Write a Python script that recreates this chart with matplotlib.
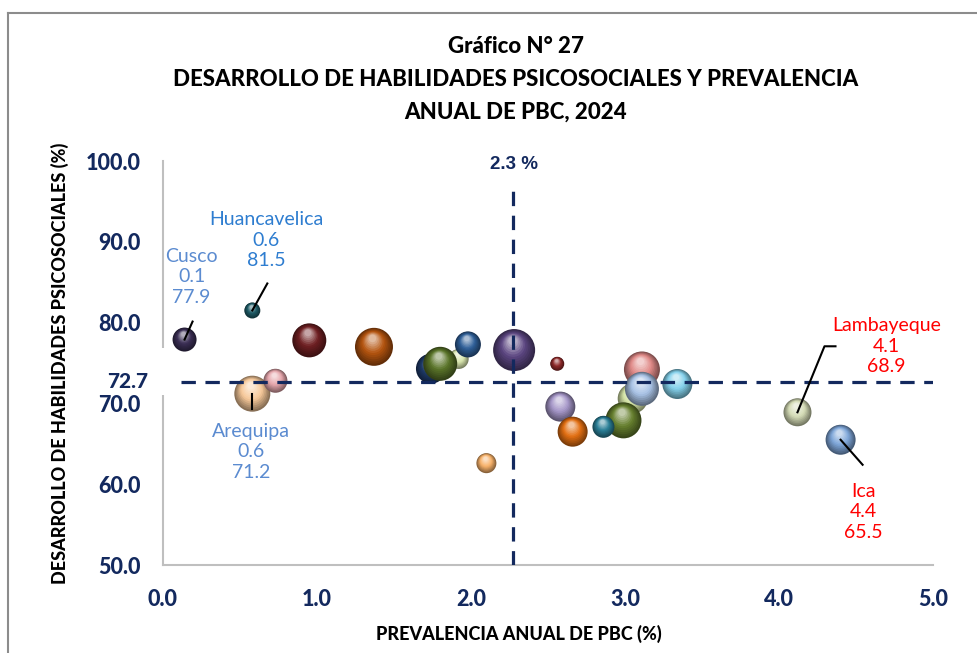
import matplotlib
matplotlib.use("Agg")
import matplotlib.pyplot as plt
import matplotlib.colors as mcolors
from matplotlib.patches import Rectangle
from matplotlib.lines import Line2D
from matplotlib.transforms import offset_copy
import numpy as np

# datos
regiones = ["Cusco", "Huancavelica", "Arequipa", "", "", "", "", "", "", "", "", "", "",
            "", "", "", "", "", "", "", "", "Lambayeque", "Ica"]
prevalencia = [0.14, 0.58, 0.58, 0.73, 0.95, 1.37, 1.92, 1.74, 1.80, 1.98, 2.28, 2.56, 2.10,
               2.58, 2.66, 3.05, 2.99, 2.86, 3.11, 3.11, 3.34, 4.12, 4.40]
habilidades = [77.9, 81.5, 71.2, 72.8, 77.8, 77.0, 75.5, 74.3, 74.9, 77.3, 76.6, 74.9, 62.6,
               69.6, 66.5, 70.6, 67.9, 67.1, 74.2, 71.8, 72.4, 68.9, 65.5]
tamano = [144, 64, 324, 144, 289, 361, 100, 225, 289, 169, 441, 49, 100,
          225, 225, 225, 324, 121, 324, 289, 225, 196, 225]
prom_x = 2.27
prom_y = 72.7

colores = ["#3b2f55", "#1e5b66", "#f7c99a", "#e6a7ad", "#6e1f22", "#b4540f", "#d9e6ae",
           "#1f3b6a", "#5a7429", "#2f5f98", "#5b4580", "#8e2a2a", "#f8b26a", "#a596c8",
           "#e26f12", "#d4e3a6", "#667f2e", "#2a7f97", "#e08a88", "#a9c3e6", "#84d2ec",
           "#d5dcb6", "#7ea6d9"]

AZUL = "#13295e"
FUENTE = "Lato"

fig = plt.figure(figsize=(9.78, 6.53), dpi=100)
ax = fig.add_axes([163 / 978, 1 - 565 / 653, 770 / 978, 404 / 653])
ax.set_xlim(0, 5)
ax.set_ylim(50, 100)


def esfera(x, y, area, color, z):
    # burbuja con efecto 3D: capas concentricas mas claras hacia arriba
    base = np.array(mcolors.to_rgb(color))
    oscuro = base * 0.55
    claro = base + (1 - base) * 0.6
    d = np.sqrt(area)
    n = 12
    for k in range(n):
        t = k / (n - 1)
        frac = 1 - 0.8 * t
        if t < 0.5:
            c = oscuro + (base - oscuro) * (t / 0.5)
        else:
            c = base + (claro - base) * ((t - 0.5) / 0.5)
        dy = d / 2 * (1 - frac) * 0.55
        dx = -d / 2 * (1 - frac) * 0.1
        tr = offset_copy(ax.transData, fig=fig, x=dx, y=dy, units="points")
        ax.scatter([x], [y], s=area * frac ** 2, color=[c], edgecolors="none",
                   transform=tr, zorder=z, clip_on=False)


for i in range(len(prevalencia)):
    area = tamano[i] * (1.44 ** 2)
    esfera(prevalencia[i], habilidades[i], area, colores[i], 4 + i * 0.01)

# lineas promedio
ax.plot([0.12, 5.0], [prom_y, prom_y], color=AZUL, lw=2.3, ls=(0, (4.5, 3)), zorder=5)
ax.plot([prom_x, prom_x], [50, 97.4], color=AZUL, lw=2.3, ls=(0, (4.5, 3)), zorder=5)
ax.text(prom_x + 0.01, 99.6, f"{prom_x:.1f} %", ha="center", va="center", color=AZUL,
        fontsize=13.5, fontweight="bold", family="Liberation Sans", zorder=6)
ax.add_patch(Rectangle((-0.45, 71.0), 0.53, 5.8, facecolor="white", edgecolor="none",
                       zorder=5.5, clip_on=False))
ax.text(-0.23, prom_y, f"{prom_y:.1f}", ha="center", va="center", color=AZUL,
        fontsize=15, fontweight="black", family=FUENTE, zorder=6, clip_on=False)

# etiquetas con lineas guia (desplazamientos en pixeles)
etiquetas = {
    "Cusco": ("#5b8bd0", (7, 63), [(0, 0), (8, 18)]),
    "Huancavelica": ("#2e7dd0", (14, 70), [(0, 0), (15, 27)]),
    "Arequipa": ("#5b8bd0", (-1, -58), [(0, 0), (0, -15)]),
    "Lambayeque": ("#ff0000", (89, 66), [(0, 0), (27, 66), (38, 66)]),
    "Ica": ("#ff0000", (23, -72), [(0, 0), (22, -25)]),
}
inv = ax.transData.inverted()
for i, nombre in enumerate(regiones):
    if nombre not in etiquetas:
        continue
    col, off, guia = etiquetas[nombre]
    x, y = prevalencia[i], habilidades[i]
    px, py = ax.transData.transform((x, y))
    pts = inv.transform([(px + gx, py + gy) for gx, gy in guia])
    ax.add_line(Line2D(pts[:, 0], pts[:, 1], color="black", lw=1.5, zorder=6))
    ax.annotate(f"{nombre}\n{x:.1f}\n{y:.1f}", xy=(x, y), xytext=off,
                textcoords="offset pixels", ha="center", va="center", color=col,
                fontsize=14, family=FUENTE, linespacing=1.25, zorder=7)

# ejes
for lado in ["top", "right"]:
    ax.spines[lado].set_visible(False)
for lado in ["left", "bottom"]:
    ax.spines[lado].set_color("#bfbfbf")
    ax.spines[lado].set_linewidth(1.5)
ax.set_xticks(np.arange(0, 5.01, 1))
ax.set_yticks(np.arange(50, 100.01, 10))
ax.set_xticklabels([f"{v:.1f}" for v in np.arange(0, 5.01, 1)])
ax.set_yticklabels([f"{v:.1f}" for v in np.arange(50, 100.01, 10)])
ax.tick_params(length=0, colors=AZUL, labelsize=15.5)
ax.tick_params(axis="y", pad=16)
ax.tick_params(axis="x", pad=17)
for lab in ax.get_xticklabels() + ax.get_yticklabels():
    lab.set_fontweight("black")
    lab.set_family(FUENTE)
ax.set_xlabel("PREVALENCIA ANUAL DE PBC (%)", fontsize=13, fontweight="black",
              family=FUENTE)
ax.xaxis.set_label_coords((519 - 163) / 770, -(625 - 565) / 404)
ax.set_ylabel("DESARROLLO DE HABILIDADES PSICOSOCIALES (%)", fontsize=13,
              fontweight="black", family=FUENTE, labelpad=12)

fig.text(516 / 978, 1 - 79 / 653,
         "Gráfico N° 27\nDESARROLLO DE HABILIDADES PSICOSOCIALES Y PREVALENCIA\nANUAL DE PBC, 2024",
         ha="center", va="center", fontsize=16, fontweight="black", family=FUENTE,
         linespacing=1.7)

# marco gris parcial
fig.add_artist(Line2D([8 / 978, 1], [1 - 13 / 653, 1 - 13 / 653], color="#8c8c8c", lw=1.5))
fig.add_artist(Line2D([8 / 978, 8 / 978], [0, 1 - 13 / 653], color="#8c8c8c", lw=1.5))

fig.savefig("out.png", dpi=100)
